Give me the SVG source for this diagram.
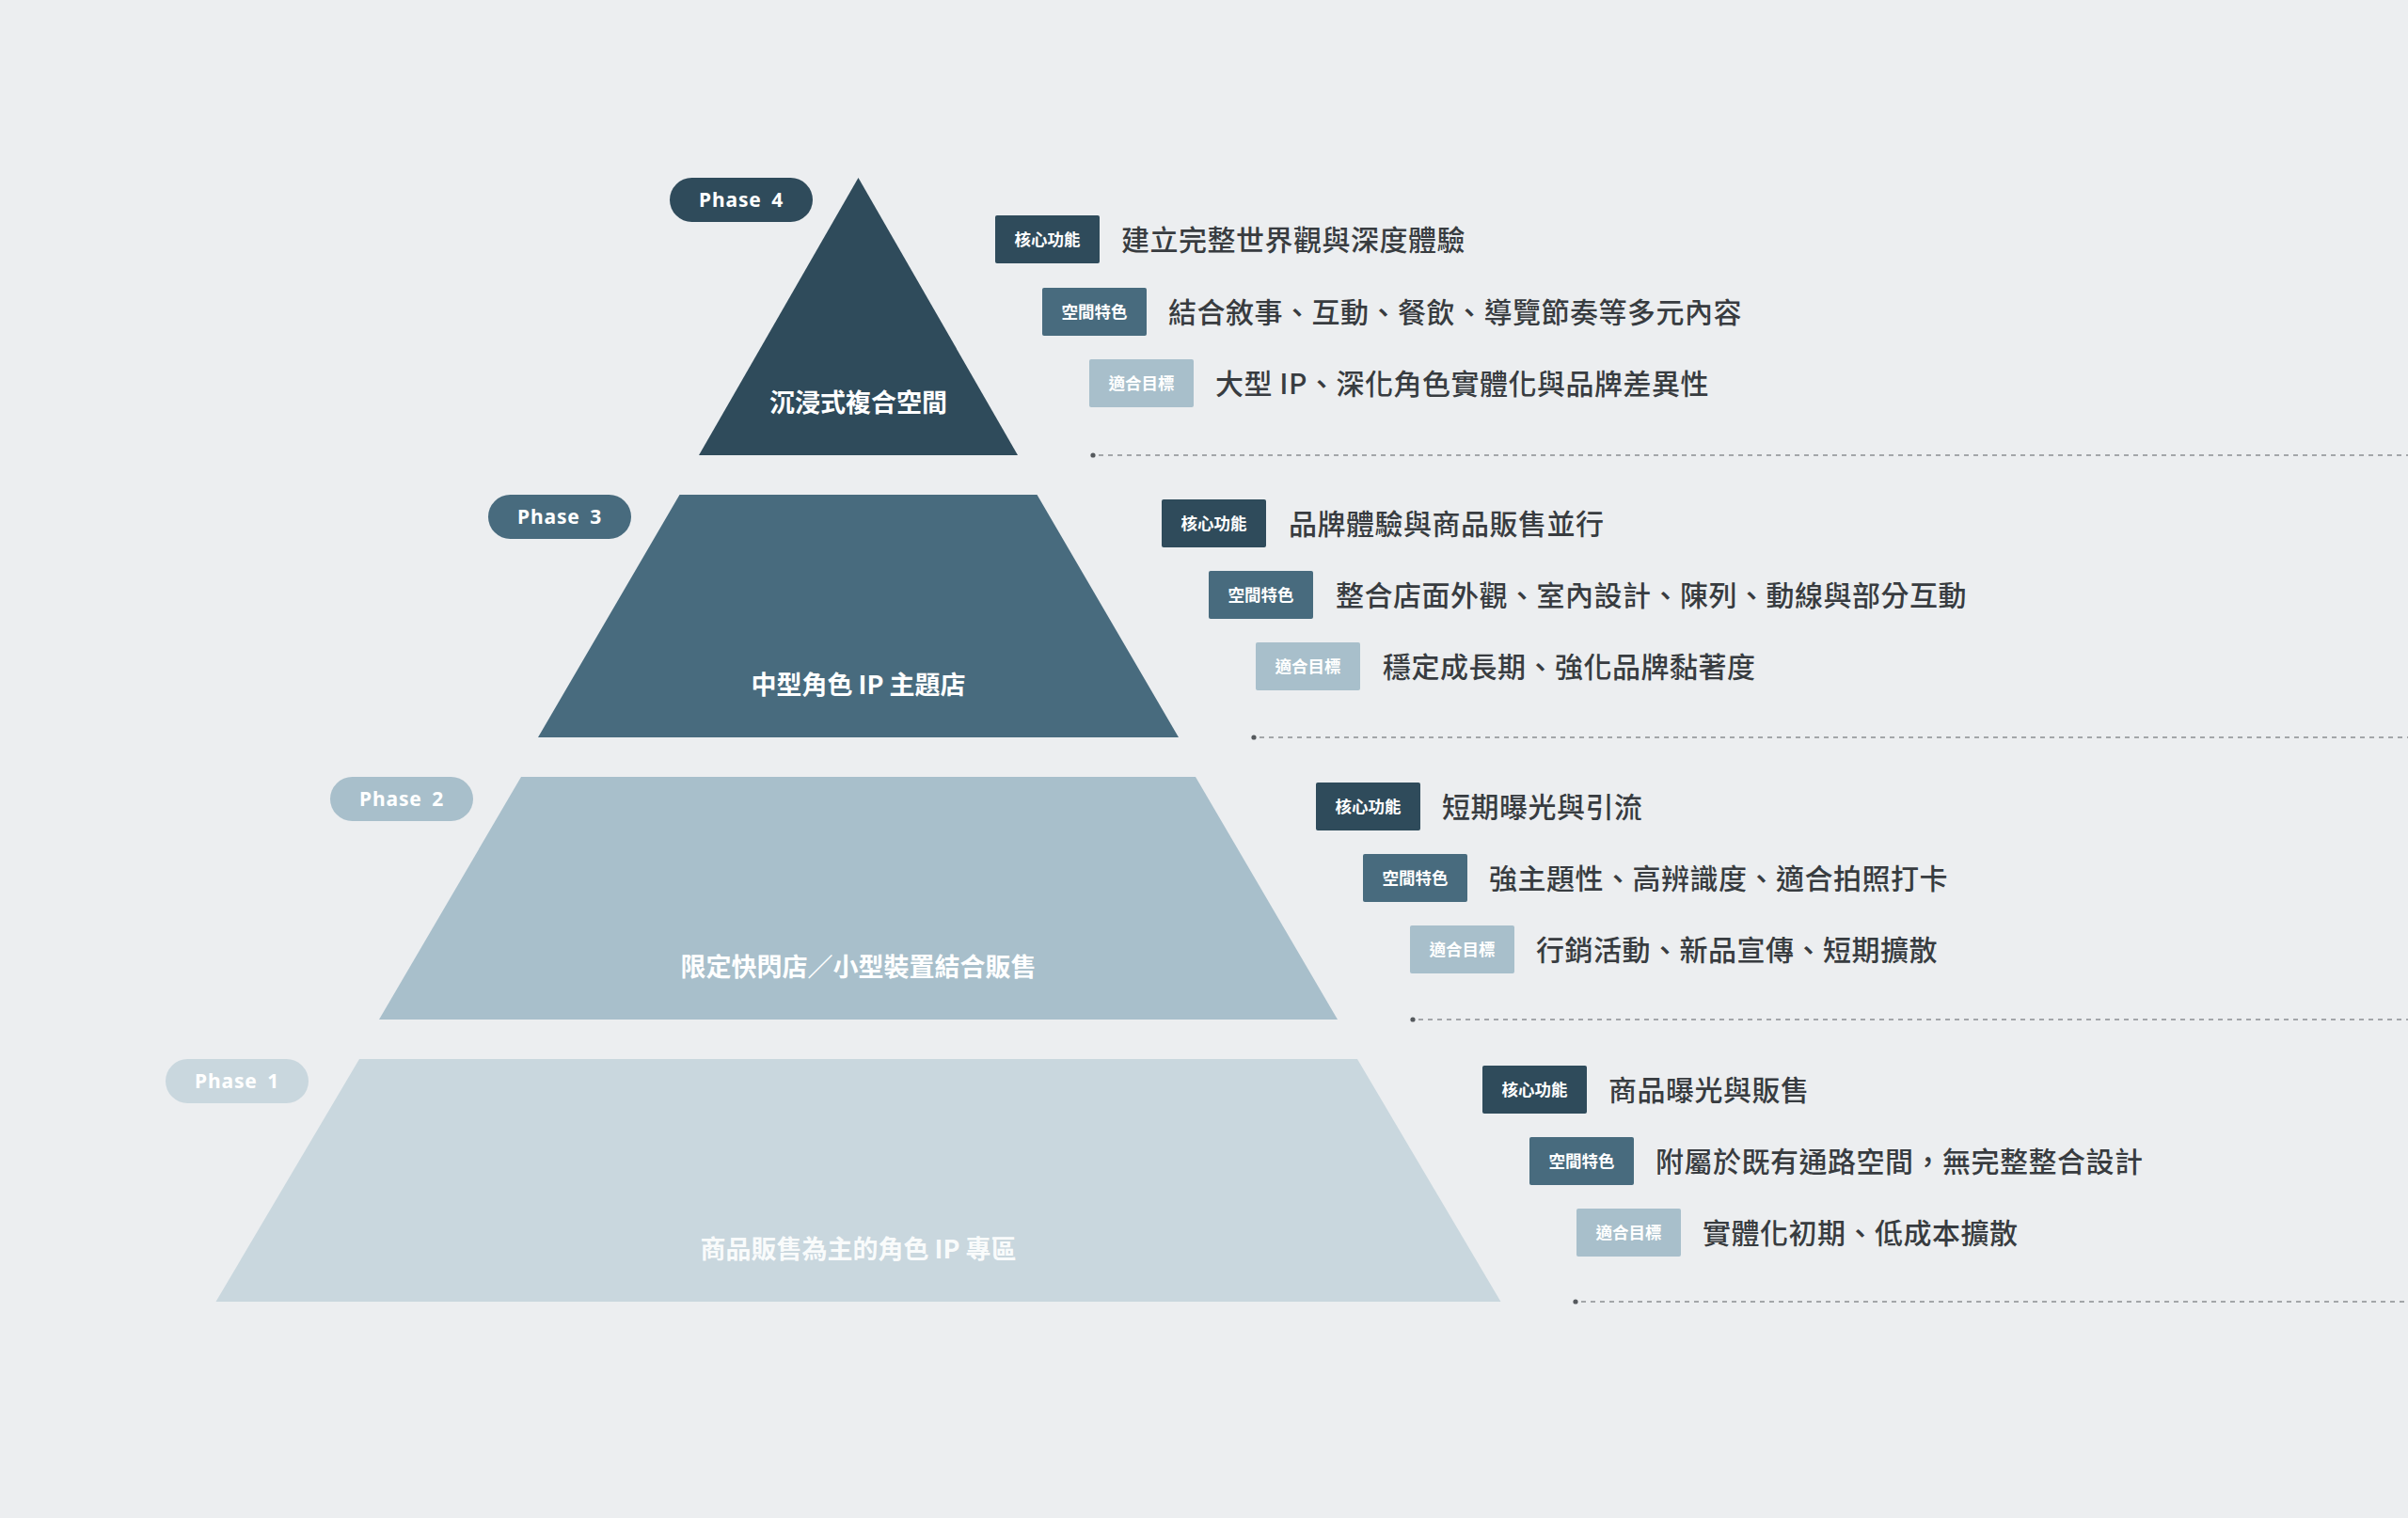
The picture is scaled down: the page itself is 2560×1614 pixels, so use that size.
<svg xmlns="http://www.w3.org/2000/svg" width="2560" height="1614" viewBox="0 0 2560 1614">
<style>
.bg{fill:#eceef0}
.c1{fill:#2f4b5b}
.c2{fill:#486b7e}
.c3{fill:#a8bfcb}
.c4{fill:#c9d7de}
.pill{font-family:"Noto Sans","Open Sans","Noto Sans CJK TC",sans-serif;font-weight:700;font-size:21px;fill:#ffffff;text-anchor:middle;letter-spacing:0.9px;word-spacing:4px}
.lbl{font-family:"Noto Sans CJK TC","Noto Sans",sans-serif;font-weight:700;font-size:27px;fill:#ffffff;text-anchor:middle}
.tag{font-family:"Noto Sans CJK TC","Noto Sans",sans-serif;font-weight:700;font-size:17.5px;fill:#ffffff;text-anchor:middle}
.txt{font-family:"Noto Sans CJK TC","Noto Sans",sans-serif;font-weight:500;font-size:30px;fill:#383c40;letter-spacing:0.5px}
.dash{stroke:#a3a6a9;stroke-width:2;stroke-dasharray:5 5;fill:none}
.dot{fill:#55595d}
</style>
<rect class="bg" x="0" y="0" width="2560" height="1614"/>

<g id="connectors">
  <circle class="dot" cx="1162" cy="484" r="2.6"/>
  <line class="dash" x1="1168" y1="484" x2="2560" y2="484"/>
  <circle class="dot" cx="1333" cy="784" r="2.6"/>
  <line class="dash" x1="1339" y1="784" x2="2560" y2="784"/>
  <circle class="dot" cx="1502" cy="1084" r="2.6"/>
  <line class="dash" x1="1508" y1="1084" x2="2560" y2="1084"/>
  <circle class="dot" cx="1675" cy="1384" r="2.6"/>
  <line class="dash" x1="1681" y1="1384" x2="2560" y2="1384"/>
</g>

<g id="tier4">
  <polygon class="c1" points="912.5,189 1082,484 743,484"/>
  <text class="lbl" x="912.5" y="438">沉浸式複合空間</text>
  <rect class="c1" x="712" y="189" width="152" height="47" rx="23.5"/>
  <text class="pill" x="788" y="220">Phase 4</text>
</g>
<g id="tier4-info">
  <rect class="c1" x="1058" y="229" width="111" height="51" rx="2"/>
  <text class="tag" x="1113.5" y="261">核心功能</text>
  <text class="txt" x="1192" y="266">建立完整世界觀與深度體驗</text>
  <rect class="c2" x="1108" y="306" width="111" height="51" rx="2"/>
  <text class="tag" x="1163.5" y="338">空間特色</text>
  <text class="txt" x="1242" y="343">結合敘事、互動、餐飲、導覽節奏等多元內容</text>
  <rect class="c3" x="1158" y="382" width="111" height="51" rx="2"/>
  <text class="tag" x="1213.5" y="414">適合目標</text>
  <text class="txt" x="1292" y="419">大型 IP、深化角色實體化與品牌差異性</text>
</g>

<g id="tier3">
  <polygon class="c2" points="722.5,526 1102.5,526 1253,784 572,784"/>
  <text class="lbl" x="912.5" y="738">中型角色 IP 主題店</text>
  <rect class="c2" x="519" y="526" width="152" height="47" rx="23.5"/>
  <text class="pill" x="595" y="557">Phase 3</text>
</g>
<g id="tier3-info">
  <rect class="c1" x="1235" y="531" width="111" height="51" rx="2"/>
  <text class="tag" x="1290.5" y="563">核心功能</text>
  <text class="txt" x="1370" y="568">品牌體驗與商品販售並行</text>
  <rect class="c2" x="1285" y="607" width="111" height="51" rx="2"/>
  <text class="tag" x="1340.5" y="639">空間特色</text>
  <text class="txt" x="1420" y="644">整合店面外觀、室內設計、陳列、動線與部分互動</text>
  <rect class="c3" x="1335" y="683" width="111" height="51" rx="2"/>
  <text class="tag" x="1390.5" y="715">適合目標</text>
  <text class="txt" x="1470" y="720">穩定成長期、強化品牌黏著度</text>
</g>

<g id="tier2">
  <polygon class="c3" points="554,826 1271,826 1422,1084 403,1084"/>
  <text class="lbl" x="912.5" y="1038">限定快閃店／小型裝置結合販售</text>
  <rect class="c3" x="351" y="826" width="152" height="47" rx="23.5"/>
  <text class="pill" x="427" y="857">Phase 2</text>
</g>
<g id="tier2-info">
  <rect class="c1" x="1399" y="832" width="111" height="51" rx="2"/>
  <text class="tag" x="1454.5" y="864">核心功能</text>
  <text class="txt" x="1533" y="869">短期曝光與引流</text>
  <rect class="c2" x="1449" y="908" width="111" height="51" rx="2"/>
  <text class="tag" x="1504.5" y="940">空間特色</text>
  <text class="txt" x="1583" y="945">強主題性、高辨識度、適合拍照打卡</text>
  <rect class="c3" x="1499" y="984" width="111" height="51" rx="2"/>
  <text class="tag" x="1554.5" y="1016">適合目標</text>
  <text class="txt" x="1633" y="1021">行銷活動、新品宣傳、短期擴散</text>
</g>

<g id="tier1">
  <polygon class="c4" points="382,1126 1443,1126 1595.5,1384 229.5,1384"/>
  <text class="lbl" x="912.5" y="1338" fill-opacity="0.92">商品販售為主的角色 IP 專區</text>
  <rect class="c4" x="176" y="1126" width="152" height="47" rx="23.5"/>
  <text class="pill" x="252" y="1157">Phase 1</text>
</g>
<g id="tier1-info">
  <rect class="c1" x="1576" y="1133" width="111" height="51" rx="2"/>
  <text class="tag" x="1631.5" y="1165">核心功能</text>
  <text class="txt" x="1710" y="1170">商品曝光與販售</text>
  <rect class="c2" x="1626" y="1209" width="111" height="51" rx="2"/>
  <text class="tag" x="1681.5" y="1241">空間特色</text>
  <text class="txt" x="1760" y="1246">附屬於既有通路空間，無完整整合設計</text>
  <rect class="c3" x="1676" y="1285" width="111" height="51" rx="2"/>
  <text class="tag" x="1731.5" y="1317">適合目標</text>
  <text class="txt" x="1810" y="1322">實體化初期、低成本擴散</text>
</g>
</svg>
